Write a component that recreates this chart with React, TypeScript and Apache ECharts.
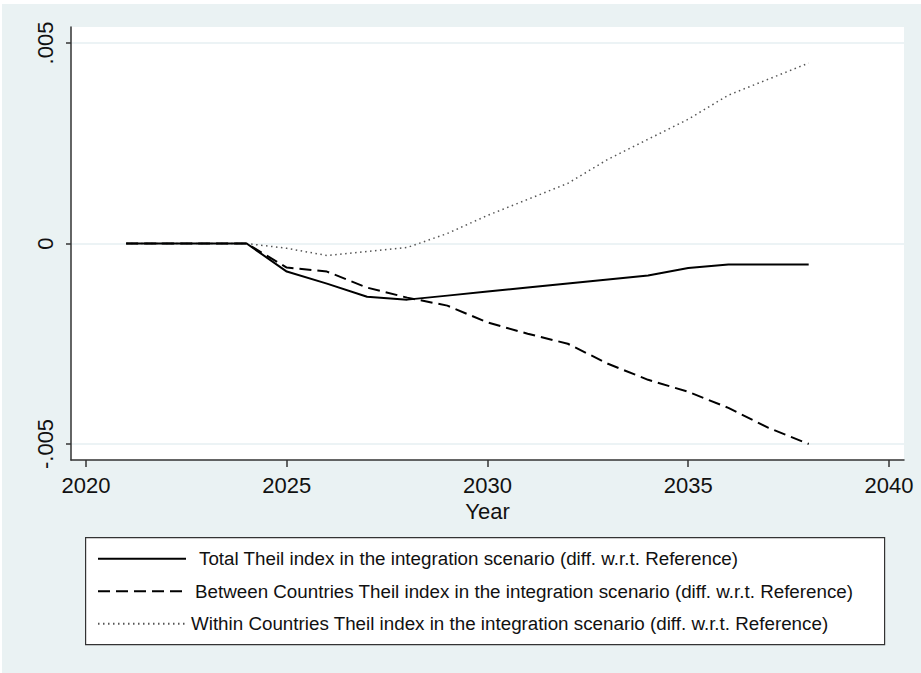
import React, { useEffect, useRef } from 'react';
import * as echarts from 'echarts';

const years = [2021, 2022, 2023, 2024, 2025, 2026, 2027, 2028, 2029, 2030, 2031, 2032, 2033, 2034, 2035, 2036, 2037, 2038];
const totalTheil = [0, 0, 0, 0, -0.0007, -0.001, -0.00133, -0.0014, -0.0013, -0.0012, -0.0011, -0.001, -0.0009, -0.0008, -0.00061, -0.000525, -0.000525, -0.000525];
const betweenTheil = [0, 0, 0, 0, -0.0006, -0.0007, -0.0011, -0.00135, -0.00155, -0.00197, -0.00225, -0.0025, -0.003, -0.0034, -0.0037, -0.0041, -0.0046, -0.005];
const withinTheil = [0, 0, 0, 0, -0.00012, -0.0003, -0.0002, -0.0001, 0.00025, 0.0007, 0.0011, 0.0015, 0.0021, 0.0026, 0.0031, 0.0037, 0.0041, 0.0045];
const xTicks = [2020, 2025, 2030, 2035, 2040];
const yTicks = [-0.005, 0, 0.005];
const seriesNames = [
  'Total Theil index in the integration scenario (diff. w.r.t. Reference)',
  'Between Countries Theil index in the integration scenario (diff. w.r.t. Reference)',
  'Within Countries Theil index in the integration scenario (diff. w.r.t. Reference)',
];
const xAxisName = 'Year';

export default function App() {
  const ref = useRef<HTMLDivElement>(null);
  useEffect(() => {
    document.body.style.margin = '0';
    const chart = echarts.init(ref.current!, null, { renderer: 'svg' });
    const font = 'Arial, "Liberation Sans", Helvetica, sans-serif';
    const pair = (vals: number[]) => years.map((y, i) => [y, vals[i]]);
    const fmtY = (v: number) => {
      if (Math.abs(v) < 1e-12) return '0';
      return (v < 0 ? '-' : '') + String(Math.abs(v)).replace(/^0/, '');
    };
    chart.setOption({
      animation: false,
      backgroundColor: '#EAF2F3',
      textStyle: { fontFamily: font },
      grid: {
        left: 69, top: 23, width: 833, height: 433,
        show: true, backgroundColor: '#ffffff', borderWidth: 0,
      },
      xAxis: {
        type: 'value',
        min: 2019.626, max: 2040.374,
        name: xAxisName,
        nameLocation: 'middle',
        nameGap: 39,
        nameTextStyle: { fontSize: 22, color: '#111', fontFamily: font },
        axisLine: { show: true, onZero: false, lineStyle: { color: '#333', width: 1.5 } },
        axisTick: { show: true, length: 7, customValues: xTicks, lineStyle: { color: '#333', width: 1.5 } },
        axisLabel: { customValues: xTicks, fontSize: 22, color: '#111', margin: 14, fontFamily: font, formatter: (v: number) => String(v) },
        splitLine: { show: false },
      },
      yAxis: {
        type: 'value',
        min: -0.0054, max: 0.0054,
        axisLine: { show: true, onZero: false, lineStyle: { color: '#333', width: 1.5 } },
        axisTick: { show: true, length: 5, customValues: yTicks, lineStyle: { color: '#333', width: 1.5 } },
        axisLabel: { customValues: yTicks, fontSize: 22, color: '#111', margin: 15, rotate: 90, formatter: fmtY, fontFamily: font },
        splitLine: { show: true, lineStyle: { color: '#E6EFF2', width: 1.5 } },
      },
      legend: {
        orient: 'vertical',
        left: 95, top: 545.25,
        padding: 0,
        itemWidth: 88, itemHeight: 18, itemGap: 13.5,
        itemStyle: { opacity: 0 },
        textStyle: { fontSize: 18.8, color: '#111', fontFamily: font, lineHeight: 18 },
        data: [
          { name: seriesNames[0], textStyle: { padding: [0, 0, 0, 8] } },
          { name: seriesNames[1], textStyle: { padding: [0, 0, 0, 4] } },
          { name: seriesNames[2], textStyle: { padding: [0, 0, 0, 0] } },
        ],
        selectedMode: false,
      },
      graphic: [
        {
          type: 'rect', left: 83, top: 533, z: 0,
          shape: { width: 799, height: 107 },
          style: { fill: '#ffffff', stroke: '#333', lineWidth: 1.2 },
        },
      ],
      series: [
        {
          name: seriesNames[0], type: 'line', data: pair(totalTheil), symbol: 'none', z: 5,
          lineStyle: { color: '#000', width: 2, type: 'solid' }, itemStyle: { color: '#000' },
        },
        {
          name: seriesNames[1], type: 'line', data: pair(betweenTheil), symbol: 'none', z: 4,
          lineStyle: { color: '#000', width: 2, type: [12, 6] }, itemStyle: { color: '#000' },
        },
        {
          name: seriesNames[2], type: 'line', data: pair(withinTheil), symbol: 'none', z: 3,
          lineStyle: { color: '#555', width: 1.5, type: [1.5, 3.5] }, itemStyle: { color: '#555' },
        },
      ],
    });
    return () => chart.dispose();
  }, []);
  return (
    <div style={{ position: 'absolute', left: 0, top: 0, width: 921, height: 673, background: '#fff' }}>
      <div ref={ref} style={{ position: 'absolute', left: 2, top: 4, width: 919, height: 669 }} />
    </div>
  );
}
